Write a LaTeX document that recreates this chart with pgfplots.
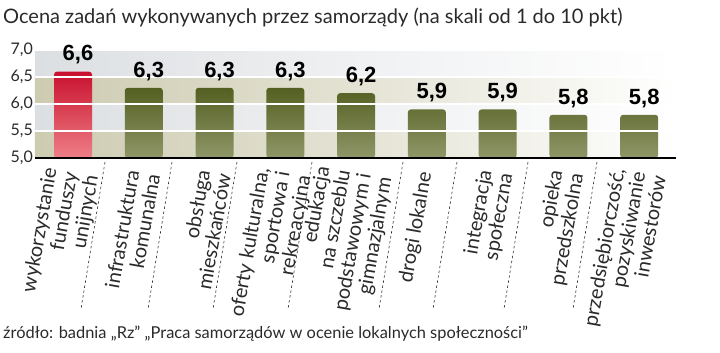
\documentclass[border=0pt]{standalone}
\usepackage{pgfplots}
\pgfplotsset{compat=1.18}
\usepackage{fontspec}
\setmainfont{Lato}
\newfontfamily\valfont{Liberation Sans}
\definecolor{khaki}{HTML}{CDCBB0}
\definecolor{lgray}{HTML}{DCDFE2}
\definecolor{redtop}{HTML}{C8102E}
\definecolor{redbot}{HTML}{EE7F86}
\definecolor{olivetop}{HTML}{545F22}
\definecolor{olivebot}{HTML}{8F9768}
\definecolor{txt}{HTML}{2A2A2A}
\begin{document}
\begin{tikzpicture}[x=1pt,y=1pt]
\useasboundingbox (0,0) rectangle (720,353);
\begin{axis}[
  at={(35pt,195pt)}, anchor=south west, scale only axis,
  width=641pt, height=129.6pt,
  xmin=-0.537, xmax=8.52, ymin=5, ymax=7.4,
  axis on top,
  axis x line*=bottom, axis y line*=left,
  y axis line style={draw=none},
  x axis line style={line width=1.6pt, black, -},
  xtick={0,...,8},
  xticklabels={{wykorzystanie\\funduszy\\unijnych},{infrastruktura\\komunalna},{obsługa\\mieszkańców},{oferty kulturalna,\\sportowa i\\rekreacyjna},{edukacja\\na szczeblu\\podstawowym i\\gimnazjalnym},{drogi lokalne},{integracja\\społeczna},{opieka\\przedszkolna},{przedsiębiorczość,\\pozyskiwanie\\inwestorów}},
  xticklabel style={rotate=80, anchor=east, align=right, font=\fontsize{20}{21}\selectfont, text=txt, inner sep=0pt, xshift=-14pt, yshift=-1.5pt},
  xtick style={draw=none}, ytick style={draw=none},
  ytick={5,5.5,6,6.5,7},
  yticklabel style={font=\fontsize{16}{16}\selectfont, text=txt, inner sep=2pt},
  ymajorgrids, grid style={white, line width=1.5pt},
  every node near coord/.append style={anchor=south, inner sep=0pt, yshift=7pt, xshift=5pt, font=\valfont\bfseries\fontsize{22}{22}\selectfont, text=black},
  /pgf/number format/use comma,
  /pgf/number format/fixed,
  /pgf/number format/fixed zerofill,
  /pgf/number format/precision=1,
  /pgf/number format/assume math mode=true,
]
\fill[left color=lgray, right color=white, middle color=lgray!45] (rel axis cs:0,0.8333) rectangle (rel axis cs:1,0.625);
\fill[left color=khaki, right color=white, middle color=khaki!55] (rel axis cs:0,0.625) rectangle (rel axis cs:1,0.4167);
\fill[left color=lgray, right color=white, middle color=lgray!45] (rel axis cs:0,0.4167) rectangle (rel axis cs:1,0.2083);
\fill[left color=khaki, right color=white, middle color=khaki!55] (rel axis cs:0,0.2083) rectangle (rel axis cs:1,0);
\addplot[ybar, bar width=38pt, bar shift=0pt, draw=none, top color=redtop, bottom color=redbot, rounded corners=3pt, nodes near coords] coordinates {(0,6.6)};
\addplot[ybar, bar width=38pt, bar shift=0pt, draw=none, top color=olivetop, bottom color=olivebot, rounded corners=3pt, nodes near coords] coordinates {(1,6.3) (2,6.3) (3,6.3) (4,6.2) (5,5.9) (6,5.9) (7,5.8) (8,5.8)};
\end{axis}
\foreach \t in {105,172,237,312,403,457,528,597}{
  \draw[txt, line width=0.6pt, dash pattern=on 2.5pt off 2.5pt] (\t,191) -- (\t-24,44);
}
\node[anchor=base west, inner sep=0pt, text=txt, font=\fontsize{20}{22}\selectfont] at (3,329) {Ocena zadań wykonywanych przez samorządy (na skali od 1 do 10 pkt)};
\node[anchor=base west, inner sep=0pt, text=txt, font=\fontsize{16.4}{17}\selectfont] at (3,14) {źródło: badnia „Rz” „Praca samorządów w ocenie lokalnych społeczności”};
\end{tikzpicture}
\end{document}
